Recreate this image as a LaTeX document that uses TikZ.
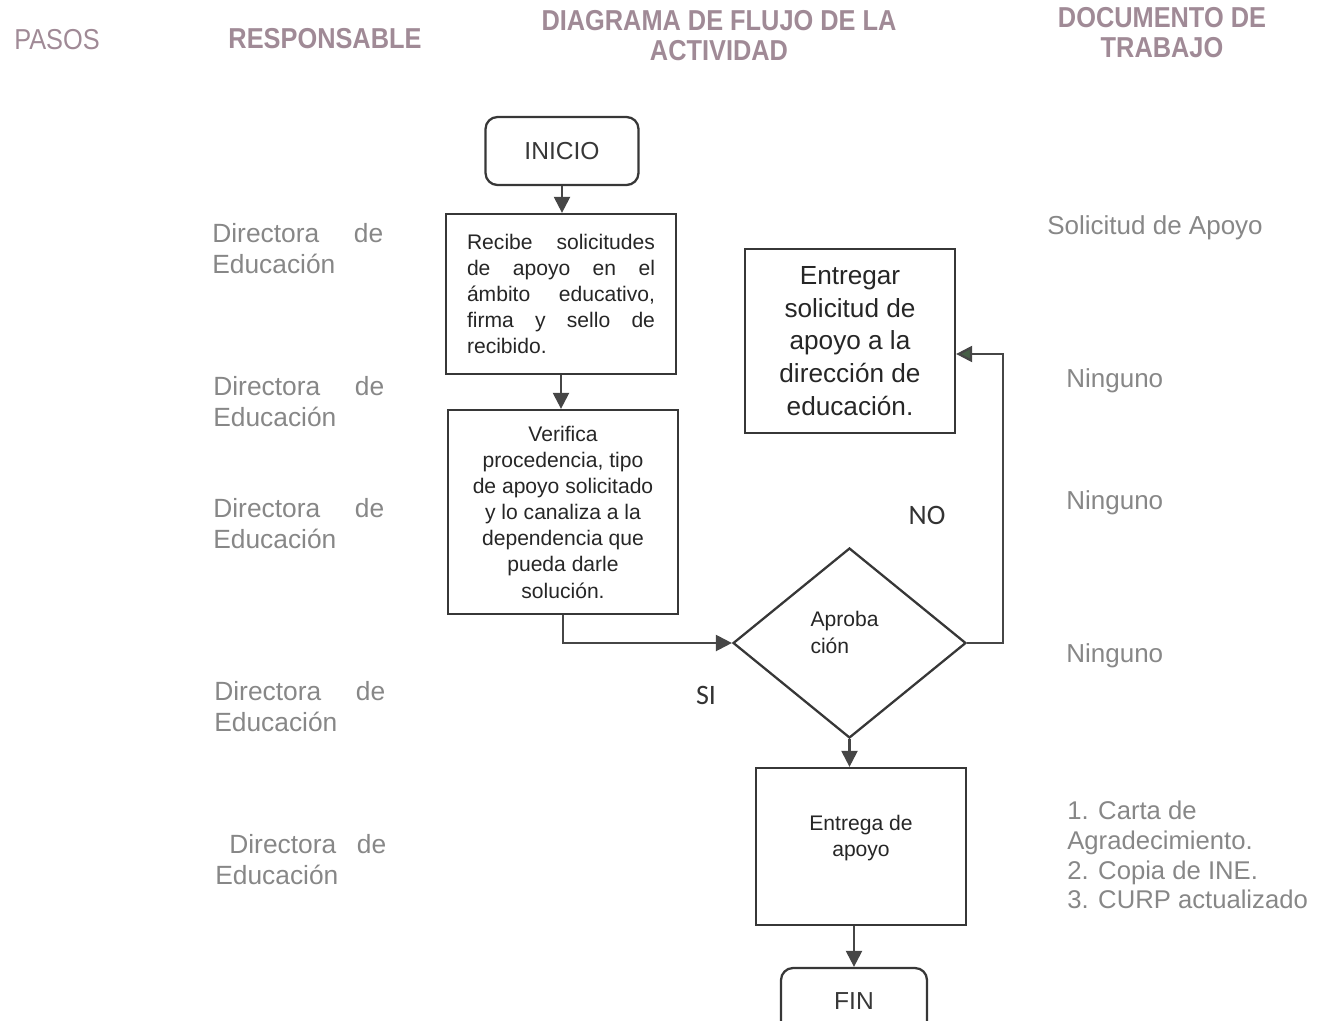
\documentclass[tikz,border=0pt]{standalone}
\usepackage{fontspec}
\setmainfont{Liberation Sans}
\newfontfamily\headfont[FakeStretch=0.88]{Liberation Sans}
\newfontfamily\marcafont{Carlito}
\usetikzlibrary{shapes.geometric,arrows.meta}
\definecolor{linea}{RGB}{55,55,55}
\definecolor{flechacol}{RGB}{70,70,70}
\definecolor{flechano}{RGB}{70,95,70}
\definecolor{headcol}{RGB}{160,138,150}
\definecolor{sidecol}{RGB}{135,135,135}
\newcommand{\dired}{\makebox[3.42cm][s]{Directora\hfill de}\\Educación}
\newcommand{\lineaj}[1]{\makebox[3.76cm][s]{#1}}

\begin{document}
\begin{tikzpicture}[x=0.02cm,y=-0.02cm,
  terminal/.style={draw=linea,line width=1.3pt,rounded corners=0.24cm,inner sep=0pt,
    font=\fontsize{14}{17}\selectfont,text=linea},
  proceso/.style={draw=linea,line width=1.3pt,inner sep=0pt,
    font=\fontsize{12}{14.9}\selectfont,text=black!85},
  decision/.style={diamond,draw=linea,line width=1.3pt,inner sep=0pt,aspect=1.23,
    font=\fontsize{12}{14.9}\selectfont,text=black!85},
  flecha/.style={draw=flechacol,line width=1.3pt,-{Triangle[width=0.32cm,length=0.32cm]}},
  encabezado/.style={text=headcol,align=center,font=\headfont\bfseries\fontsize{16.4}{17}\selectfont},
  resp/.style={text=sidecol,align=left,inner sep=0pt,anchor=west,font=\fontsize{15}{17.6}\selectfont},
  doc/.style={text=sidecol,align=left,inner sep=0pt,anchor=west,font=\fontsize{14.6}{17}\selectfont},
  marca/.style={text=black!80,font=\marcafont\fontsize{16}{18}\selectfont}]
  \useasboundingbox (0,0) rectangle (1329,1021);

  % encabezados
  \node[encabezado,font=\headfont\fontsize{16.4}{17}\selectfont] (hpasos) at (57,40) {PASOS};
  \node[encabezado] (hresp) at (325,39) {RESPONSABLE};
  \node[encabezado] (hdiag) at (719,36) {DIAGRAMA DE FLUJO DE LA\\ACTIVIDAD};
  \node[encabezado] (hdoc) at (1162,33) {DOCUMENTO DE\\TRABAJO};

  % diagrama
  \node[terminal,minimum width=3.06cm,minimum height=1.36cm] (inicio) at (562,151) {INICIO};
  \node[proceso,minimum width=4.6cm,minimum height=3.2cm,align=left] (recibe) at (561,294)
    {\lineaj{Recibe\hfill solicitudes}\\\lineaj{de\hfill apoyo\hfill en\hfill el}\\
     \lineaj{ámbito\hfill educativo,}\\\lineaj{firma\hfill y\hfill sello\hfill de}\\
     \makebox[3.76cm][l]{recibido.}};
  \node[proceso,minimum width=4.6cm,minimum height=4.08cm,align=center] (verifica) at (563,512)
    {Verifica\\procedencia, tipo\\de apoyo solicitado\\y lo canaliza a la\\dependencia que\\pueda darle\\solución.};
  \node[proceso,minimum width=4.2cm,minimum height=3.68cm,align=center,
    font=\fontsize{14.9}{18.7}\selectfont] (entregar) at (850,341)
    {Entregar\\solicitud de\\apoyo a la\\dirección de\\educación.};
  \node[decision,minimum width=4.66cm,minimum height=3.8cm,align=left] (aprob) at (849.5,643)
    {\hspace*{-0.2cm}Aproba\\\hspace*{-0.2cm}ción\\[-0.1cm]};
  \node[proceso,minimum width=4.2cm,minimum height=3.14cm,align=center] (entrega) at (861,846.5)
    {Entrega de\\apoyo\\[-0.1cm]};
  \node[terminal,minimum width=2.92cm,minimum height=1.32cm] (fin) at (854,1001) {FIN};
  \coordinate (giro) at (1003,643);

  \draw[flecha] (inicio.south) -- (inicio.south |- recibe.north);
  \draw[flecha] (recibe.south) -- (recibe.south |- verifica.north);
  \draw[flecha] (verifica.south) |- (aprob.west);
  \draw[flecha,-{Triangle[width=0.32cm,length=0.32cm,fill=flechano]}] (aprob.east) -- (giro)
    |- ([yshift=-0.26cm]entregar.east);
  \draw[flecha] (aprob.south) -- (aprob.south |- entrega.north);
  \draw[flecha] (fin.north |- entrega.south) -- (fin.north);

  \node[marca] (no) at (927,515) {NO};
  \node[marca] (si) at (706,695) {SI};

  % responsables
  \node[resp] (r1) at (212,249) {\dired};
  \node[resp] (r2) at (213,402) {\dired};
  \node[resp] (r3) at (213,524) {\dired};
  \node[resp] (r4) at (214,707) {\dired};
  \node[resp] (r5) at (215,860) {\hspace*{0.28cm}\makebox[3.14cm][s]{Directora\hfill de}\\Educación};

  % documentos
  \node[doc,font=\fontsize{14.8}{17}\selectfont] (d1) at (1047,228) {Solicitud de Apoyo};
  \node[doc,font=\fontsize{14.8}{17}\selectfont] (d2) at (1066,381) {Ninguno};
  \node[doc,font=\fontsize{14.8}{17}\selectfont] (d3) at (1066,503) {Ninguno};
  \node[doc,font=\fontsize{14.8}{17}\selectfont] (d4) at (1066,656) {Ninguno};
  \node[doc] (d5) at (1067,855) {1. Carta de\\Agradecimiento.\\2. Copia de INE.\\3. CURP actualizado};
\end{tikzpicture}
\end{document}
